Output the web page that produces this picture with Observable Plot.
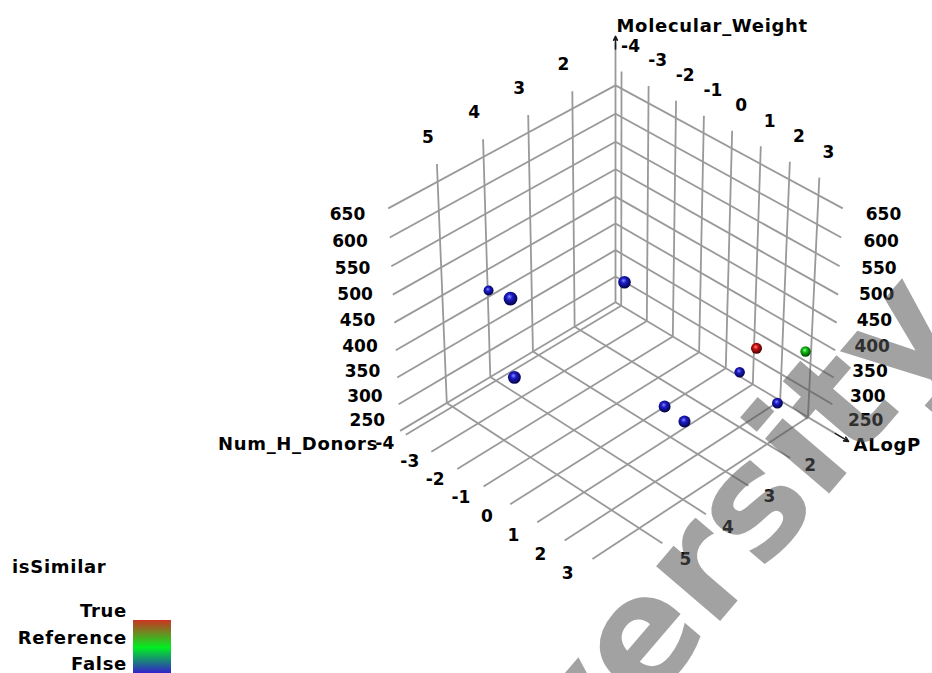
<!DOCTYPE html>
<html>
<head>
<meta charset="utf-8">
<script src="https://cdn.jsdelivr.net/npm/d3@7"></script>
<script src="https://cdn.jsdelivr.net/npm/@observablehq/plot@0.6"></script>
<style>
  html, body { margin: 0; padding: 0; background: #fff; overflow: hidden; }
  #wrap { position: relative; width: 932px; height: 673px; }
  #wrap > svg { position: absolute; left: 0; top: 0; }
</style>
</head>
<body>
<div id="wrap"></div>
<script>
// ---------------- data ----------------
const numHDonorsTicks = [2, 3, 4, 5];
const aLogPTicks = [-4, -3, -2, -1, 0, 1, 2, 3];
const mwTicks = [250, 300, 350, 400, 450, 500, 550, 600, 650];

// extent of the 3D box on each axis
const hDomain = [1, 6.05];
const aDomain = [-4.224, 3.817];
const mwDomain = [250, 650];

// points
const ptNumHDonors = [4, 6, 4, 6, 4, 4, 2, 1, 2, 2];
const ptALogP      = [-4.19, 0.12, 0.87, 0.19, 2.31, 3.01, 2.51, 2.81, 1.95, 3.30];
const ptMW         = [413, 618, 575, 484, 399, 394, 412, 367, 351, 336];
const ptSimilar    = ["False", "False", "False", "False", "False", "False", "True", "Reference", "False", "False"];

const simCategories = ["True", "Reference", "False"];
const axisNames = {x: "Num_H_Donors", y: "ALogP", z: "Molecular_Weight"};
const legendTitle = "isSimilar";

// ---------------- 3D view (perspective camera) ----------------
const view = {elevation: 37, azimuth: 45, distance: 10, focal: 3128, cx: 615, cy: 322.1, boxHeight: 0.89};
const rad = Math.PI / 180;
const ce = Math.cos(view.elevation * rad), se = Math.sin(view.elevation * rad);
const ca = Math.cos(view.azimuth * rad), sa = Math.sin(view.azimuth * rad);
const target = [0.5, 0.5, view.boxHeight / 2];
const fwd = [-ce * ca, -ce * sa, -se];
const cam = [target[0] - view.distance * fwd[0], target[1] - view.distance * fwd[1], target[2] - view.distance * fwd[2]];
const rightV = [-sa, ca, 0];
const upV = [-se * ca, -se * sa, ce];
const dot3 = (u, v) => u[0] * v[0] + u[1] * v[1] + u[2] * v[2];
function project(h, a, mw) {
  const p = [
    (h - hDomain[0]) / (hDomain[1] - hDomain[0]),
    (a - aDomain[0]) / (aDomain[1] - aDomain[0]),
    (mw - mwDomain[0]) / (mwDomain[1] - mwDomain[0]) * view.boxHeight
  ];
  const q = [p[0] - cam[0], p[1] - cam[1], p[2] - cam[2]];
  const depth = dot3(q, fwd);
  return {x: view.cx + view.focal * dot3(q, rightV) / depth, y: view.cy - view.focal * dot3(q, upV) / depth, depth};
}

const [Hmin, Hmax] = hDomain, [Amin, Amax] = aDomain, [MWmin, MWmax] = mwDomain;
const gridTop = 680;       // wall verticals run a little past the top
const axisTop = 735;       // Molecular_Weight arrow tip
const aArrowStart = 3.98, aArrowTip = 4.44;

// ---------------- grid segments ----------------
const grid = [];
function seg(list, p, q) { const A = project(...p), B = project(...q); list.push({x1: A.x, y1: A.y, x2: B.x, y2: B.y}); }
for (const h of numHDonorsTicks) seg(grid, [h, Amin, MWmin], [h, Amin, gridTop]);
for (const m of mwTicks) seg(grid, [Hmin, Amin, m], [Hmax, Amin, m]);
for (const a of aLogPTicks) seg(grid, [Hmin, a, MWmin], [Hmin, a, gridTop]);
for (const m of mwTicks) seg(grid, [Hmin, Amin, m], [Hmin, Amax, m]);
for (const h of numHDonorsTicks) seg(grid, [h, Amin, MWmin], [h, Amax, MWmin]);
for (const a of aLogPTicks) seg(grid, [Hmin, a, MWmin], [Hmax, a, MWmin]);
seg(grid, [Hmin, Amin, MWmin], [Hmin, Amin, axisTop - 12]);
seg(grid, [Hmin, Amax, MWmin], [Hmin, aArrowStart, MWmin]);

const arrows = [];
seg(arrows, [Hmin, Amin, axisTop - 22], [Hmin, Amin, axisTop]);
seg(arrows, [Hmin, aArrowStart, MWmin], [Hmin, aArrowTip, MWmin]);

// ---------------- points ----------------
const pts = ptNumHDonors.map((h, i) => {
  const P = project(h, ptALogP[i], ptMW[i]);
  return {x: P.x, y: P.y, depth: P.depth, r: 5.8 * Math.pow(9.9 / P.depth, 4), cat: ptSimilar[i]};
}).sort((a, b) => b.depth - a.depth);

// ---------------- labels ----------------
const tickLabels = [], nameLabels = [];
for (const h of numHDonorsTicks) { const P = project(h, Amin, gridTop); tickLabels.push({x: P.x - 9, y: P.y - 27, t: String(h), anchor: "middle"}); }
for (const a of aLogPTicks) { const P = project(Hmin, a, gridTop); tickLabels.push({x: P.x + 9, y: P.y - 25, t: String(a), anchor: "middle"}); }
for (const m of mwTicks) {
  const t = (MWmax - m) / (MWmax - MWmin);
  const L = project(Hmax, Amin, m); tickLabels.push({x: L.x - 23 + 8 * t, y: L.y + 6 - 16 * t, t: String(m), anchor: "end"});
  const R = project(Hmin, Amax, m); tickLabels.push({x: R.x + 23 - 6 * t, y: R.y + 6 - 16 * t, t: String(m), anchor: "start"});
}
for (const a of aLogPTicks) {
  const k = a - aLogPTicks[0];
  const P = project(Hmax, a, MWmin); tickLabels.push({x: P.x - 21 - 0.55 * k, y: P.y + 9 + 0.85 * k, t: String(a), anchor: "middle"});
}
for (const h of numHDonorsTicks) {
  const k = h - numHDonorsTicks[0];
  const P = project(h, Amax, MWmin); tickLabels.push({x: P.x + 20 + k, y: P.y + 8 + 2.7 * k, t: String(h), anchor: "middle"});
}
{
  const P = project(Hmax, Amin, MWmin); nameLabels.push({x: P.x - 22, y: P.y + 13, t: axisNames.x, anchor: "end"});
  const Q = project(Hmin, aArrowTip, MWmin); nameLabels.push({x: Q.x + 5, y: Q.y + 4, t: axisNames.y, anchor: "start"});
  const M = project(Hmin, Amin, axisTop); nameLabels.push({x: M.x + 1, y: M.y - 10, t: axisNames.z, anchor: "start"});
}

const tickOpts = {x: "x", y: "y", text: "t", fontSize: 17, fontWeight: "bold", fill: "#000"};
const nameOpts = {x: "x", y: "y", text: "t", fontSize: 18, fontWeight: "bold", fill: "#000"};

const svg = Plot.plot({
  width: 932, height: 673,
  margin: 0,
  style: {fontFamily: "'DejaVu Sans', sans-serif", background: "transparent"},
  x: {domain: [0, 932], range: [0, 932], axis: null},
  y: {domain: [0, 673], range: [0, 673], axis: null},
  r: {type: "identity"},
  marks: [
    Plot.link(grid, {x1: "x1", y1: "y1", x2: "x2", y2: "y2", stroke: "#999", strokeWidth: 1.8}),
    Plot.arrow(arrows, {x1: "x1", y1: "y1", x2: "x2", y2: "y2", stroke: "#1a1a1a", strokeWidth: 1.6, headLength: 7, headAngle: 50}),
    Plot.dot(pts.filter(d => d.cat === "False"), {x: "x", y: "y", r: "r", fill: "url(#sph-False)"}),
    Plot.dot(pts.filter(d => d.cat === "True"), {x: "x", y: "y", r: "r", fill: "url(#sph-True)"}),
    Plot.dot(pts.filter(d => d.cat === "Reference"), {x: "x", y: "y", r: "r", fill: "url(#sph-Reference)"}),
    Plot.text(tickLabels.filter(d => d.anchor === "middle"), {...tickOpts, textAnchor: "middle"}),
    Plot.text(tickLabels.filter(d => d.anchor === "end"), {...tickOpts, textAnchor: "end"}),
    Plot.text(tickLabels.filter(d => d.anchor === "start"), {...tickOpts, textAnchor: "start"}),
    Plot.text(nameLabels.filter(d => d.anchor === "end"), {...nameOpts, textAnchor: "end"}),
    Plot.text(nameLabels.filter(d => d.anchor === "start"), {...nameOpts, textAnchor: "start"})
  ]
});
d3.select(svg).selectAll("g[aria-label='text']").filter((d, i) => i >= 3).style("letter-spacing", "0.7px");

// sphere shading
const sphereColors = {
  True: ["#ff8a8a", "#cc1010", "#3a0000"],
  Reference: ["#9aff9a", "#12c012", "#003a00"],
  False: ["#8a8aff", "#1c1cc8", "#00003a"]
};
const defs = d3.select(svg).insert("defs", ":first-child");
for (const [k, c] of Object.entries(sphereColors)) {
  const g = defs.append("radialGradient").attr("id", "sph-" + k)
    .attr("cx", 0.45).attr("cy", 0.42).attr("r", 0.6).attr("fx", 0.42).attr("fy", 0.36);
  g.append("stop").attr("offset", 0).attr("stop-color", c[0]);
  g.append("stop").attr("offset", 0.35).attr("stop-color", c[1]);
  g.append("stop").attr("offset", 1).attr("stop-color", c[2]);
}
document.getElementById("wrap").appendChild(svg);

// ---------------- legend (colour bar) ----------------
const lg = d3.select("#wrap").append("svg")
  .attr("width", 200).attr("height", 128)
  .style("left", "0px").style("top", "545px")
  .style("font-family", "'DejaVu Sans', sans-serif").style("font-weight", "bold")
  .style("font-size", "18px").style("letter-spacing", "0.7px");
const lgGrad = lg.append("defs").append("linearGradient").attr("id", "simbar").attr("x1", 0).attr("x2", 0).attr("y1", 0).attr("y2", 1);
lgGrad.append("stop").attr("offset", 0).attr("stop-color", "#cc3322");
lgGrad.append("stop").attr("offset", 0.52).attr("stop-color", "#00ee22");
lgGrad.append("stop").attr("offset", 1).attr("stop-color", "#3322cc");
lg.append("text").attr("x", 12).attr("y", 23).attr("dominant-baseline", "middle").text(legendTitle);
simCategories.forEach((c, i) => {
  lg.append("text").attr("x", 127).attr("y", 67 + i * 26.5).attr("text-anchor", "end").attr("dominant-baseline", "middle").text(c);
});
lg.append("rect").attr("x", 133).attr("y", 75).attr("width", 38).attr("height", 53).attr("fill", "url(#simbar)");

// ---------------- watermark ----------------
const wm = d3.select("#wrap").append("svg").attr("width", 932).attr("height", 673).style("pointer-events", "none");
wm.append("text")
  .attr("transform", "translate(680,668) rotate(-49.5)")
  .attr("text-anchor", "middle")
  .style("font-family", "'DejaVu Sans', sans-serif").style("font-weight", "bold").style("font-size", "154px")
  .attr("fill", "#555").attr("fill-opacity", 0.55)
  .text("University");
</script>
</body>
</html>
